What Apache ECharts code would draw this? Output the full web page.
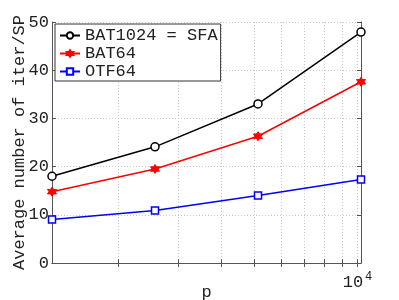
<!DOCTYPE html>
<html><head><meta charset="utf-8">
<script src="https://cdn.jsdelivr.net/npm/echarts@6/dist/echarts.min.js"></script>
<style>html,body{margin:0;padding:0;background:#fff}#c{width:399px;height:300px}</style>
</head><body><div id="c"></div>
<script>
var pValues = [1280, 2560, 5120, 10240];
var seriesNames = ['BAT1024 = SFA', 'BAT64', 'OTF64'];
var bat1024 = [18.0, 24.1, 33.0, 47.9];
var bat64 = [14.8, 19.5, 26.3, 37.6];
var otf64 = [9.05, 10.9, 14.0, 17.3];
var yTicks = [0, 10, 20, 30, 40, 50];
var xGridValues = [2000, 3000, 4000, 5000, 6000, 7000, 8000, 9000, 10000];
var xLabelValues = [10000];

var FONT = 'Liberation Mono';
var lg = function (v) { return Math.log10(v); };
function pts(arr) { return pValues.map(function (p, i) { return [lg(p), arr[i]]; }); }
var hexPath = 'path://M0,-10L2.9,-5L8.66,-5L5.8,0L8.66,5L2.9,5L0,10L-2.9,5L-8.66,5L-5.8,0L-8.66,-5L-2.9,-5Z';
var axisColor = '#555';
var xmin = lg(pValues[0]), xmax = lg(pValues[pValues.length - 1]);

var chart = echarts.init(document.getElementById('c'), null, {renderer: 'canvas'});
var xBase = {
  type: 'value', min: xmin, max: xmax,
  axisLine: {show: true, lineStyle: {color: axisColor, width: 1}},
  axisTick: {show: true, inside: true, length: 4, customValues: xGridValues.map(lg), lineStyle: {color: axisColor}},
  splitLine: {show: false}
};
chart.setOption({
  animation: false,
  grid: {left: 52, right: 38, top: 22, bottom: 37, containLabel: false, outerBoundsMode: 'none'},
  legend: {
    orient: 'vertical', left: 55, top: 24,
    data: seriesNames,
    backgroundColor: '#fff', borderColor: '#333', borderWidth: 1, borderRadius: 0,
    padding: [3, 3, 1, 4], itemGap: 1, itemWidth: 20, itemHeight: 8,
    textStyle: {fontFamily: FONT, fontSize: 17, color: '#222', lineHeight: 17}
  },
  xAxis: [
    Object.assign({}, xBase, {
      position: 'bottom',
      name: 'p', nameLocation: 'middle', nameGap: 21, nameMoveOverlap: false,
      nameTextStyle: {fontFamily: FONT, fontSize: 17, color: '#222'},
      splitLine: {show: true, lineStyle: {color: '#c8c8c8', type: [1, 2], width: 1}},
      axisLabel: {
        show: true, customValues: xLabelValues.map(lg), margin: 8,
        formatter: function () { return '{a|10}{b|4}'; },
        rich: {
          a: {fontFamily: FONT, fontSize: 17, color: '#222'},
          b: {fontFamily: FONT, fontSize: 12, color: '#222', verticalAlign: 'top', padding: [0, 0, 10, 2]}
        }
      }
    }),
    Object.assign({}, xBase, {position: 'top', axisLabel: {show: false}})
  ],
  yAxis: [
    {
      type: 'value', min: 0, max: 50, interval: 10, position: 'left',
      name: 'Average number of iter/SP', nameLocation: 'middle', nameGap: 24, nameMoveOverlap: false,
      nameTextStyle: {fontFamily: FONT, fontSize: 17, color: '#222'},
      axisLine: {show: true, lineStyle: {color: axisColor}},
      axisTick: {show: true, inside: true, length: 4, lineStyle: {color: axisColor}},
      axisLabel: {fontFamily: FONT, fontSize: 17, color: '#222', margin: 3,
        customValues: yTicks},
      splitLine: {show: true, lineStyle: {color: '#c8c8c8', type: [1, 2], width: 1}}
    },
    {
      type: 'value', min: 0, max: 50, interval: 10, position: 'right',
      axisLine: {show: true, lineStyle: {color: axisColor}},
      axisTick: {show: true, inside: true, length: 4, lineStyle: {color: axisColor}},
      axisLabel: {show: false}, splitLine: {show: false}
    }
  ],
  series: [
    {name: seriesNames[0], type: 'line', data: pts(bat1024), symbol: 'circle', symbolSize: 8,
      lineStyle: {color: '#000', width: 1.5}, itemStyle: {color: '#fff', borderColor: '#000', borderWidth: 1.5}},
    {name: seriesNames[1], type: 'line', data: pts(bat64), symbol: hexPath, symbolSize: 9,
      lineStyle: {color: '#ff0000', width: 1.5}, itemStyle: {color: '#ff0000', borderColor: '#ff0000', borderWidth: 1}},
    {name: seriesNames[2], type: 'line', data: pts(otf64), symbol: 'rect', symbolSize: 7,
      lineStyle: {color: '#0000ff', width: 1.5}, itemStyle: {color: '#fff', borderColor: '#0000ff', borderWidth: 1.5}}
  ]
});
</script></body></html>
